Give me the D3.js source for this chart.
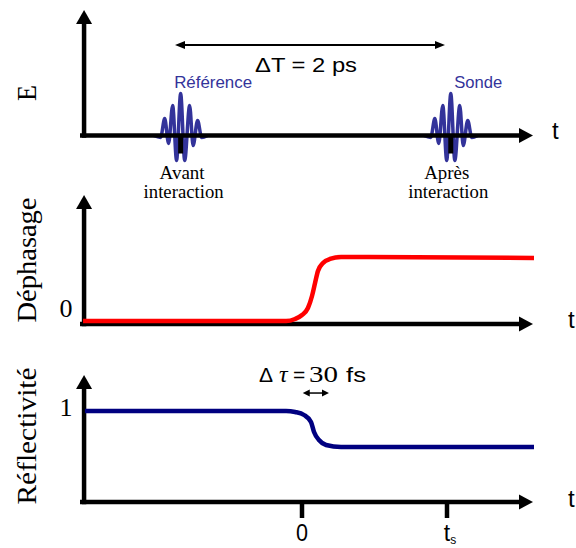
<!DOCTYPE html>
<html><head><meta charset="utf-8">
<script src="https://cdn.jsdelivr.net/npm/d3@7/dist/d3.min.js"></script>
<style>html,body{margin:0;padding:0;background:#fff;overflow:hidden}svg{display:block}</style>
</head><body><svg id="c" width="576" height="548"></svg>
<script>
// ---------------- data (time unit: t_s = 1, t = 0 at interaction) ----------------
const axisStartT = -1.531, axisEndT = 1.593, yAxisT = -1.503;
const tickValues = [0, 1];
const tickLabels = ["0", "t"];
const tickSubs = ["", "s"];

const pulseCenters = [-0.837, 1.026];
const pulseNames = ["Référence", "Sonde"];
const pulseCaption1 = ["Avant", "Après"];
const pulseCaption2 = ["interaction", "interaction"];
// wave packet shape (time offset from centre, field amplitude)
const waveT = [-0.186, -0.138, -0.110, -0.083, -0.055, -0.028, 0, 0.028, 0.062, 0.086, 0.117, 0.145, 0.186];
const waveE = [0, -0.016, 0.135, -0.064, 0.239, -0.199, 0.335, -0.199, 0.239, -0.080, 0.120, -0.016, 0];

// phase shift (Déphasage)
const phaseT = [-1.51, -0.110, -0.048, 0, 0.041, 0.069, 0.090, 0.110, 0.145, 0.193, 0.269, 1.60];
const phaseV = [0.023, 0.023, 0.039, 0.070, 0.124, 0.217, 0.318, 0.411, 0.473, 0.504, 0.519, 0.512];

// reflectivity (Réflectivité)
const reflT = [-1.497, -0.110, -0.048, 0.014, 0.062, 0.083, 0.117, 0.166, 0.269, 1.60];
const reflV = [0.717, 0.717, 0.709, 0.685, 0.630, 0.551, 0.488, 0.449, 0.433, 0.433];

const deltaTSpan = [-0.876, 0.986];
const deltaTauSpan = [0.005, 0.186];
const deltaTauLevel = 0.858;

const yLabels = ["E", "Déphasage", "Réflectivité"];
const yValueLabels = [null, {v: 0.055, text: "0"}, {v: 0.675, text: "1"}];

// ---------------- layout ----------------
const svg = d3.select("#c");
const x = d3.scaleLinear().domain([0, 1]).range([302, 447]);
const panels = [
  {origin: 135.5, tip: 10,  labelCy: 93,  labelLen: 16,  labelSize: 27, tX: 552, tBase: 139},
  {origin: 324,   tip: 195, labelCy: 260, labelLen: 125, labelSize: 28, tX: 568, tBase: 328},
  {origin: 502,   tip: 375, labelCy: 436, labelLen: 137, labelSize: 28, tX: 568, tBase: 507}
];
panels.forEach(p => p.y = d3.scaleLinear().domain([0, 1]).range([p.origin, p.tip]));
const AX = 4.5;
const serif = "'Liberation Serif','Times New Roman',serif";
const sans = "'Liberation Sans',Arial,sans-serif";
const waveColor = "#33339a";

function drawAxes(g, p) {
  const y = p.y, xa = x(yAxisT), y0 = y(0), yt = y(1), xe = x(axisEndT);
  g.append("line").attr("x1", xa).attr("x2", xa).attr("y1", y0 + AX / 2).attr("y2", yt + 12)
    .attr("stroke", "#000").attr("stroke-width", AX);
  g.append("path").attr("d", `M${xa},${yt}L${xa - 8},${yt + 14}L${xa + 8},${yt + 14}Z`).attr("fill", "#000");
  g.append("line").attr("x1", x(axisStartT)).attr("x2", xe - 11).attr("y1", y0).attr("y2", y0)
    .attr("stroke", "#000").attr("stroke-width", AX);
  g.append("path").attr("d", `M${xe},${y0}L${xe - 14},${y0 - 7.5}L${xe - 14},${y0 + 7.5}Z`).attr("fill", "#000");
  g.append("text").attr("x", p.tX).attr("y", p.tBase).attr("font-family", sans).attr("font-size", 24)
    .text("t");
}

// y labels
panels.forEach((p, i) => {
  svg.append("text").attr("transform", `translate(36,${p.labelCy}) rotate(-90)`)
    .attr("text-anchor", "middle").attr("font-family", serif).attr("font-size", p.labelSize)
    .attr("textLength", p.labelLen).attr("lengthAdjust", "spacingAndGlyphs")
    .text(yLabels[i]);
  const vl = yValueLabels[i];
  if (vl) svg.append("text").attr("x", 66).attr("y", p.y(vl.v)).attr("text-anchor", "middle")
    .attr("font-family", serif).attr("font-size", 26).text(vl.text);
});

// ---- top panel ----
const pTop = panels[0];
const gTop = svg.append("g");
const waveLine = d3.line().curve(d3.curveMonotoneX);
pulseCenters.forEach(c => {
  gTop.append("path")
    .attr("d", waveLine(waveT.map((dt, i) => [x(c + dt), pTop.y(waveE[i])])))
    .attr("fill", "none").attr("stroke", waveColor).attr("stroke-width", 3.5);
});
drawAxes(gTop, pTop);
pulseCenters.forEach(c => {
  gTop.append("line").attr("x1", x(c)).attr("x2", x(c)).attr("y1", pTop.origin).attr("y2", pTop.origin + 18)
    .attr("stroke", "#000").attr("stroke-width", 5);
});
const nameDx = [-6.5, 3.5], nameLen = [78, 48];
pulseNames.forEach((n, i) => {
  gTop.append("text").attr("x", x(pulseCenters[i]) + nameDx[i]).attr("y", 88)
    .attr("font-family", sans).attr("font-size", 17).attr("fill", waveColor)
    .attr("textLength", nameLen[i]).attr("lengthAdjust", "spacingAndGlyphs").text(n);
});
const capDx = [1.5, -4];
pulseCaption1.forEach((t, i) => {
  gTop.append("text").attr("x", x(pulseCenters[i]) + capDx[i]).attr("y", 179).attr("text-anchor", "middle")
    .attr("font-family", serif).attr("font-size", 18).attr("textLength", 45).attr("lengthAdjust", "spacingAndGlyphs").text(t);
  gTop.append("text").attr("x", x(pulseCenters[i]) + capDx[i] + 1.5).attr("y", 198).attr("text-anchor", "middle")
    .attr("font-family", serif).attr("font-size", 18).attr("textLength", 80).attr("lengthAdjust", "spacingAndGlyphs").text(pulseCaption2[i]);
});

function dblArrow(g, x1, x2, yy, sw, hl, hw) {
  g.append("line").attr("x1", x1 + hl - 1).attr("x2", x2 - hl + 1).attr("y1", yy).attr("y2", yy)
    .attr("stroke", "#000").attr("stroke-width", sw);
  g.append("path").attr("d", `M${x1},${yy}L${x1 + hl},${yy - hw}L${x1 + hl},${yy + hw}Z`).attr("fill", "#000");
  g.append("path").attr("d", `M${x2},${yy}L${x2 - hl},${yy - hw}L${x2 - hl},${yy + hw}Z`).attr("fill", "#000");
}
dblArrow(gTop, x(deltaTSpan[0]), x(deltaTSpan[1]), 45, 1.8, 10, 4);
gTop.append("text").attr("x", 306).attr("y", 72).attr("text-anchor", "middle")
  .attr("font-family", sans).attr("font-size", 21).attr("textLength", 102).attr("lengthAdjust", "spacingAndGlyphs")
  .text("\u0394T = 2 ps");

// ---- middle panel ----
const pMid = panels[1];
const gMid = svg.append("g");
drawAxes(gMid, pMid);
gMid.append("path")
  .attr("d", d3.line().curve(d3.curveMonotoneX)(phaseT.map((t, i) => [x(t), pMid.y(phaseV[i])])))
  .attr("fill", "none").attr("stroke", "#ff0000").attr("stroke-width", 4.5);

// ---- bottom panel ----
const pBot = panels[2];
const gBot = svg.append("g");
drawAxes(gBot, pBot);
gBot.append("path")
  .attr("d", d3.line().curve(d3.curveMonotoneX)(reflT.map((t, i) => [x(t), pBot.y(reflV[i])])))
  .attr("fill", "none").attr("stroke", "#000080").attr("stroke-width", 4.5);
tickValues.forEach((v, i) => {
  gBot.append("line").attr("x1", x(v)).attr("x2", x(v)).attr("y1", pBot.origin).attr("y2", pBot.origin + 16)
    .attr("stroke", "#000").attr("stroke-width", 4.5);
  const t = gBot.append("text").attr("x", x(v) + (tickSubs[i] ? 3 : 0)).attr("y", 541).attr("text-anchor", "middle")
    .attr("font-family", sans).attr("font-size", 23);
  const main = t.append("tspan").text(tickLabels[i]);
  if (!tickSubs[i]) main.attr("textLength", 12).attr("lengthAdjust", "spacingAndGlyphs");
  if (tickSubs[i]) t.append("tspan").attr("font-size", 12).attr("dy", 3).text(tickSubs[i]);
});
dblArrow(gBot, x(deltaTauSpan[0]), x(deltaTauSpan[1]), pBot.y(deltaTauLevel), 1.5, 7, 3.5);
const dtx = gBot.append("text").attr("y", 381.5).attr("font-size", 21);
dtx.append("tspan").attr("x", 259).attr("font-family", sans).text("\u0394");
dtx.append("tspan").attr("x", 279).attr("font-family", serif).attr("font-style", "italic").attr("font-size", 24).text("\u03c4");
dtx.append("tspan").attr("x", 293).attr("font-family", sans).text("=");
dtx.append("tspan").attr("x", 309).attr("font-family", serif).attr("font-size", 24).attr("textLength", 29).attr("lengthAdjust", "spacingAndGlyphs").text("30");
dtx.append("tspan").attr("x", 346).attr("font-family", sans).attr("textLength", 20).attr("lengthAdjust", "spacingAndGlyphs").text("fs");
</script></body></html>
